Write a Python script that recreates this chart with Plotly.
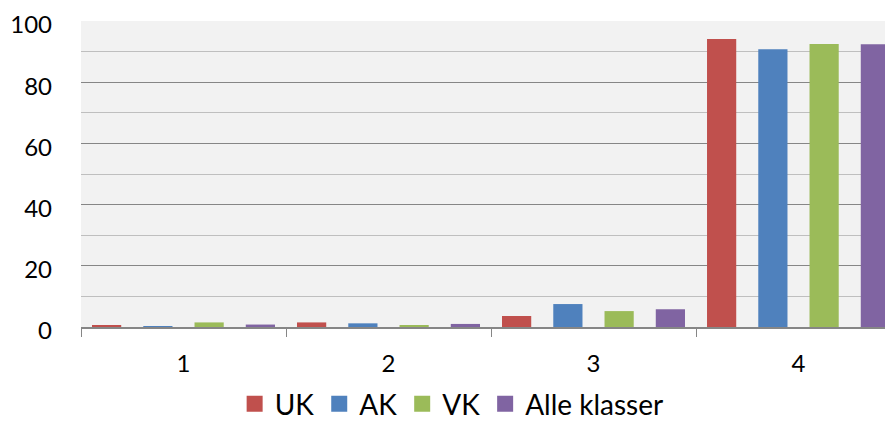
import plotly.graph_objects as go

categories = ["1", "2", "3", "4"]
series_names = ["UK", "AK", "VK", "Alle klasser"]
uk = [0.5, 1.5, 3.6, 94.1]
ak = [0.3, 1.2, 7.5, 90.8]
vk = [1.5, 0.4, 5.2, 92.5]
alle = [0.8, 1.0, 5.8, 92.4]

COLORS = ["#C0504D", "#4F81BD", "#9BBB59", "#8064A2"]
FONT = "Lato"

fig = go.Figure()
for name, values, color in zip(series_names, [uk, ak, vk, alle], COLORS):
    fig.add_trace(go.Bar(
        x=categories,
        y=values,
        name=name,
        marker=dict(color=color, line=dict(width=0)),
        showlegend=False,
    ))
    # legend proxy with a bigger square swatch
    fig.add_trace(go.Scatter(
        x=[None], y=[None],
        mode="markers",
        name=name,
        marker=dict(symbol="square", size=17, color=color),
    ))

# page body has an 8px margin, so the figure sits 8px right/down in the shot
fig.update_layout(
    width=893,
    height=421,
    margin=dict(l=73, r=0, t=13, b=102),
    paper_bgcolor="white",
    plot_bgcolor="#F2F2F2",
    barmode="group",
    bargap=0,
    bargroupgap=0.43,
    font=dict(family=FONT, size=24, color="black"),
    showlegend=True,
    legend=dict(
        orientation="h",
        x=0.452, xanchor="center",
        y=-0.252, yanchor="middle",
        font=dict(size=28),
        itemwidth=30,
    ),
)

fig.update_xaxes(
    type="category",
    range=[-0.5, 3.5],
    tickson="boundaries",
    ticks="outside",
    ticklen=8,
    tickcolor="#868686",
    showline=True,
    linecolor="#868686",
    linewidth=1.5,
    showgrid=False,
    ticklabelstandoff=14,
    automargin=False,
)

fig.update_yaxes(
    range=[0, 100],
    tickvals=[0, 20, 40, 60, 80, 100],
    showgrid=True,
    gridcolor="#868686",
    gridwidth=1.2,
    minor=dict(dtick=10, showgrid=True, gridcolor="#BFBFBF", gridwidth=1),
    zeroline=False,
    showline=False,
    ticks="",
    ticklabelstandoff=28,
    ticklabelshift=4,
    ticklabeloverflow="allow",
    automargin=False,
)

fig.write_html("out.html")
